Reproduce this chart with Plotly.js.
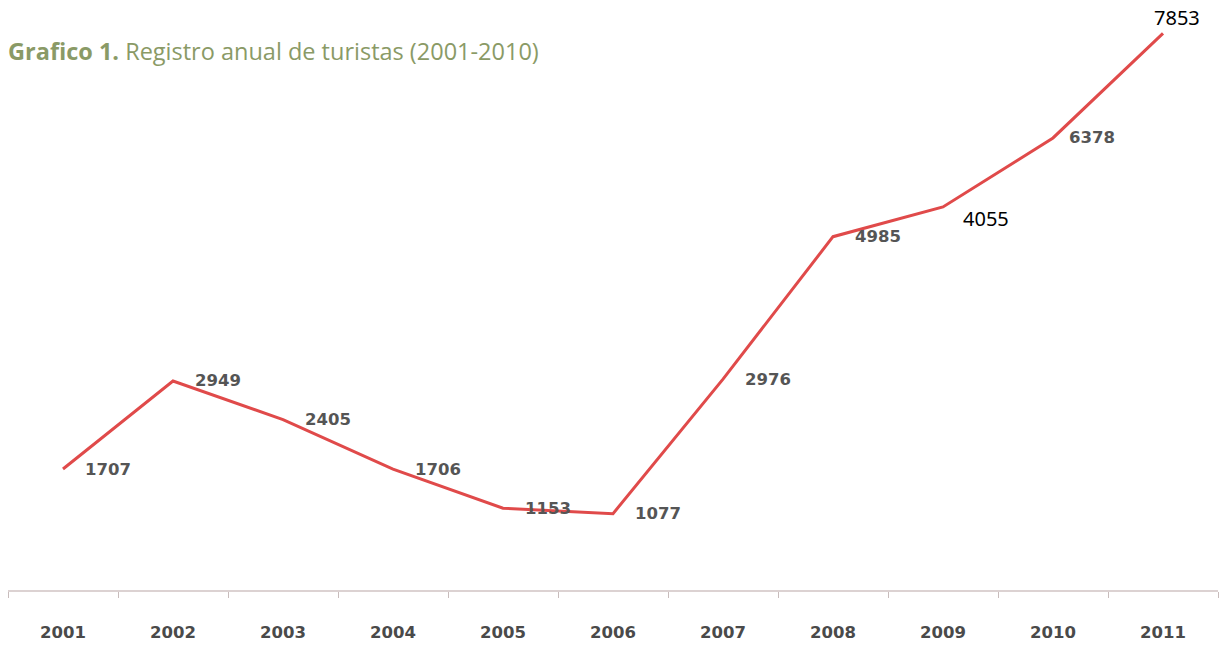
<!DOCTYPE html>
<html>
<head>
<meta charset="utf-8">
<script src="https://cdn.plot.ly/plotly-3.0.1.min.js"></script>
<style>html,body{margin:0;padding:0;background:#fff;}#chart{width:1223px;height:658px;}</style>
</head>
<body>
<div id="chart"></div>
<script>
// Data
const years = ["2001","2002","2003","2004","2005","2006","2007","2008","2009","2010","2011"];
const turistas = [1707, 2949, 2405, 1706, 1153, 1077, 2976, 4985, 5405, 6378, 7853];
const labels = ["1707","2949","2405","1706","1153","1077","2976","4985","4055","6378","7853"];

// Labels that appear in a different (black, larger) font in the reference
const blackLabel = {"2009": "right", "2011": "top"};

// category axis: annotations are positioned by category index
const annotations = years.map((yr, i) => {
  const kind = blackLabel[yr];
  if (kind === "top") {
    return {x: i, y: turistas[i], xref: 'x', yref: 'y', text: labels[i], showarrow: false,
      xanchor: 'center', yanchor: 'bottom', xshift: 14, yshift: 0,
      font: {family: 'Noto Sans, sans-serif', size: 20, color: '#000'}};
  }
  if (kind === "right") {
    return {x: i, y: turistas[i], xref: 'x', yref: 'y', text: labels[i], showarrow: false,
      xanchor: 'left', yanchor: 'middle', xshift: 18, yshift: -12,
      font: {family: 'Noto Sans, sans-serif', size: 20, color: '#000'}};
  }
  return {x: i, y: turistas[i], xref: 'x', yref: 'y', text: labels[i], showarrow: false,
    xanchor: 'left', yanchor: 'middle', xshift: (yr === "2010" ? 14 : 20), yshift: 0,
    font: {family: 'DejaVu Sans, sans-serif', size: 16.5, color: '#555555', weight: 'bold'}};
});

const trace = {
  type: 'scatter', mode: 'lines', x: years, y: turistas,
  line: {color: '#e04a4a', width: 3},
  hoverinfo: 'x+y'
};

const layout = {
  width: 1223, height: 658,
  margin: {l: 8, r: 5, t: 23, b: 68},
  paper_bgcolor: '#ffffff', plot_bgcolor: '#ffffff',
  showlegend: false,
  title: {
    text: '<b>Grafico 1.</b> Registro anual de turistas (2001-2010)',
    font: {family: 'Open Sans, sans-serif', size: 23.5, color: '#8a9a66'},
    xref: 'container', yref: 'container', x: 8/1223, xanchor: 'left',
    y: 1 - 52/658, yanchor: 'middle'
  },
  xaxis: {
    type: 'category', categoryorder: 'array', categoryarray: years,
    range: [-0.5, 10.5], fixedrange: true,
    showline: true, linecolor: '#dcd2d2', linewidth: 2,
    showgrid: false, zeroline: false,
    ticks: 'outside', tickson: 'boundaries', ticklen: 6, tickcolor: '#c8bcbc', tickwidth: 1,
    ticklabelstandoff: 26,
    tickfont: {family: 'DejaVu Sans, sans-serif', size: 16.5, color: '#4a4a4a', weight: 'bold'}
  },
  yaxis: {
    range: [0, 8000], visible: false, showgrid: false, zeroline: false, fixedrange: true
  },
  annotations: annotations
};

Plotly.newPlot('chart', [trace], layout, {displayModeBar: false, staticPlot: true});
</script>
</body>
</html>
